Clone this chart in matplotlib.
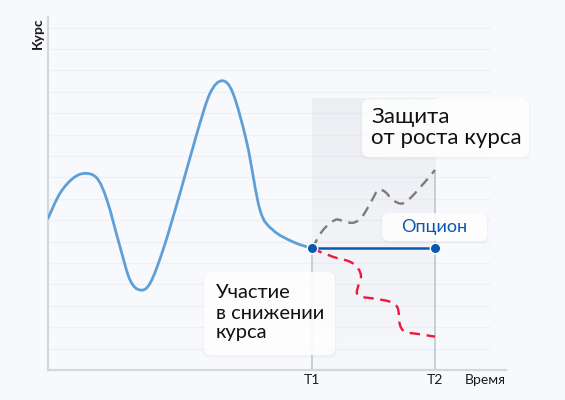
import numpy as np
import matplotlib
matplotlib.use("Agg")
import matplotlib.pyplot as plt
from matplotlib.path import Path
from matplotlib.patches import PathPatch, FancyBboxPatch

plt.rcParams['font.family'] = ['Lato', 'DejaVu Sans']

# price history up to T1 (time units, price units)
hist_x = [0.0, 1.2, 2.5, 3.7, 4.9, 5.9, 7.2, 8.2, 9.2, 10.2, 11.5, 13.2,
          14.9, 16.2, 17.4, 18.5, 19.9, 21.2, 22.5, 24.5, 26.4]
hist_y = [7.09, 8.26, 8.96, 9.19, 8.96, 7.94, 5.76, 4.21, 3.74, 4.05, 5.61,
          8.26, 11.07, 12.93, 13.52, 12.93, 10.59, 7.48, 6.54, 5.99, 5.68]

# scenario: price goes up (gray dashed)
up_x = [26.4, 27.5, 28.7, 29.5, 30.5, 31.4, 32.4, 33.0, 33.7, 34.5, 35.5,
        36.7, 38.7]
up_y = [5.68, 6.54, 7.01, 6.97, 6.88, 7.16, 7.94, 8.41, 8.33, 7.94, 7.79,
        8.26, 9.35]

# scenario: price goes down (red dashed)
down_x = [26.4, 28.5, 30.2, 31.0, 31.3, 31.0, 30.9, 31.4, 32.9, 34.2, 34.9,
          35.1, 35.2, 35.7, 37.2, 38.7]
down_y = [5.68, 5.29, 5.06, 4.75, 4.36, 3.89, 3.58, 3.42, 3.32, 3.19, 2.96,
          2.57, 2.10, 1.79, 1.67, 1.56]

t1, t2 = 26.4, 38.7
option_level = 5.68
tick_labels = ["T1", "T2"]
grid_levels = np.arange(1, 17)

BG = "#f8f9fd"
LIGHT_BLUE = "#5f9fd8"
DARK_BLUE = "#0b57b0"
RED = "#f0163c"
GRAY = "#7c7c7c"


def smooth_path(xs, ys):
    # catmull-rom -> cubic bezier segments
    pts = np.column_stack([xs, ys])
    verts = [pts[0]]
    codes = [Path.MOVETO]
    n = len(pts)
    for i in range(n - 1):
        p0 = pts[i - 1] if i > 0 else pts[i]
        p1 = pts[i]
        p2 = pts[i + 1]
        p3 = pts[i + 2] if i + 2 < n else pts[i + 1]
        verts += [p1 + (p2 - p0) / 6, p2 - (p3 - p1) / 6, p2]
        codes += [Path.CURVE4] * 3
    return Path(verts, codes)


fig = plt.figure(figsize=(5.65, 4.0), dpi=100, facecolor=BG)
ax = fig.add_axes([48 / 565, 30 / 400, 458 / 565, 353 / 400])
ax.set_facecolor(BG)
ax.set_xlim(0, 45.8)
ax.set_ylim(0, 16.5)

for s in ["top", "right"]:
    ax.spines[s].set_visible(False)
for s in ["left", "bottom"]:
    ax.spines[s].set_color("#d3d8dc")
    ax.spines[s].set_linewidth(1.6)
ax.set_xticks([])
ax.set_yticks([])

ax.hlines(grid_levels, 0, 44.2, color="#eef0f5", lw=0.9, zorder=0)

# shaded window between T1 and T2
grad = np.zeros((100, 1, 4))
grad[..., :3] = matplotlib.colors.to_rgb("#9a9ca4")
grad[:, 0, 3] = np.linspace(0.12, 0.02, 100)
ax.imshow(grad, extent=[t1, t2, 0, 12.7], aspect="auto", origin="upper",
          interpolation="bilinear", zorder=1)

ax.vlines(t1, 0, option_level, color="#c3c7cd", lw=1.2, zorder=2)
ax.vlines(t2, 0, up_y[-1], color="#c3c7cd", lw=1.2, zorder=2)

ax.add_patch(PathPatch(smooth_path(hist_x, hist_y), fill=False,
                       ec=LIGHT_BLUE, lw=2.0, capstyle="round", zorder=3))
dash = (0, (4.4, 2.8))
ax.add_patch(PathPatch(smooth_path(up_x, up_y), fill=False, ec=GRAY, lw=1.7,
                       ls=dash, zorder=3))
ax.add_patch(PathPatch(smooth_path(down_x, down_y), fill=False, ec=RED,
                       lw=1.7, ls=dash, zorder=3))

ax.plot([t1, t2], [option_level, option_level], color=DARK_BLUE, lw=1.8,
        zorder=4)
ax.plot([t1, t2], [option_level, option_level], "o", ms=7.5, mfc=DARK_BLUE,
        mec="white", mew=1.0, zorder=5)

aspect = 10 / 21.4


def box(x0, y0, x1, y1):
    for k, a in [(0.5, 0.025), (0.25, 0.035)]:
        ax.add_patch(FancyBboxPatch((x0 - k * 0.3, y0 - k * 0.3 * aspect - 0.06),
                                    x1 - x0 + k * 0.6, y1 - y0 + k * 0.6 * aspect,
                                    boxstyle="round,pad=0,rounding_size=0.7",
                                    mutation_aspect=aspect, fc="#8a93a8",
                                    ec="none", alpha=a, zorder=6, clip_on=False))
    ax.add_patch(FancyBboxPatch((x0, y0), x1 - x0, y1 - y0,
                                boxstyle="round,pad=0,rounding_size=0.7",
                                mutation_aspect=aspect, fc="white", ec="none",
                                alpha=0.88, zorder=7, clip_on=False))


box(31.4, 9.95, 48.1, 12.66)
ax.text(32.3, 11.82, "Защита", fontsize=16, color="#111111", va="center",
        ha="left", zorder=8, clip_on=False)
ax.text(32.3, 10.84, "от роста курса", fontsize=16, color="#111111",
        va="center", ha="left", zorder=8, clip_on=False)

box(33.4, 6.03, 43.9, 7.34)
ax.text(38.65, 6.68, "Опцион", fontsize=13, color=DARK_BLUE, va="center",
        ha="center", zorder=8)

box(15.6, 0.70, 28.7, 4.58)
for yy, line in zip([3.60, 2.66, 1.73], ["Участие", "в снижении", "курса"]):
    ax.text(16.8, yy, line, fontsize=14.5, color="#111111", va="center",
            ha="left", zorder=8)

for xx, lab in zip([t1, t2], tick_labels):
    ax.text(xx, -0.47, lab, fontsize=10, color="#1a1a1a", ha="center",
            va="center", clip_on=False)
ax.text(45.8, -0.47, "Время", fontsize=10, color="#1a1a1a", ha="right",
        va="center", clip_on=False)
ax.text(-1.0, 16.5, "Курс", fontsize=10, fontweight="bold", color="#1a1a1a",
        rotation=90, ha="center", va="top", clip_on=False)

fig.savefig("out.png", dpi=100, facecolor=BG)
